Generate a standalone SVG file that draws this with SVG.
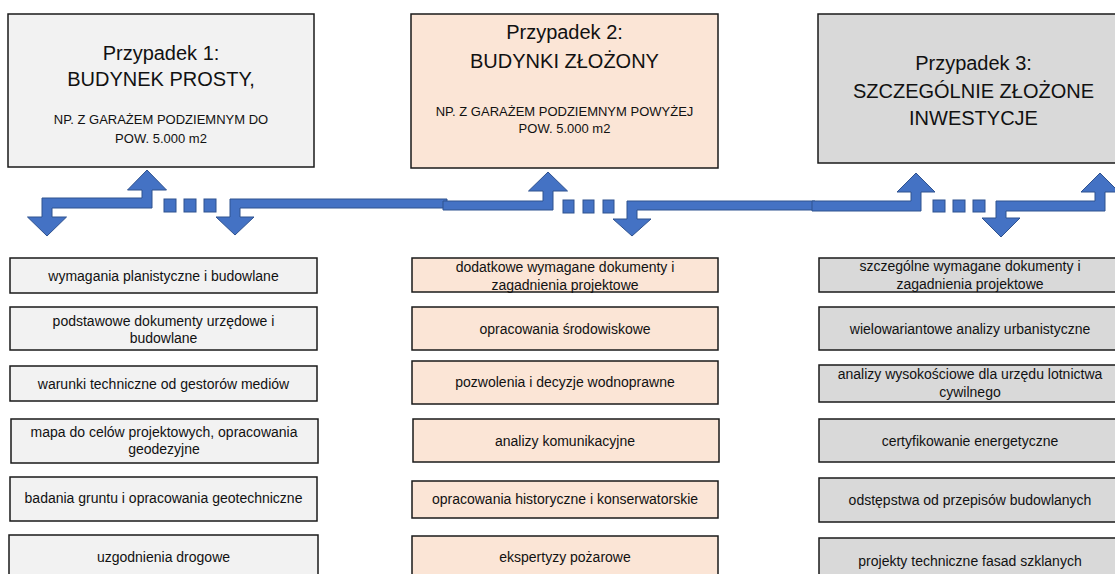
<svg xmlns="http://www.w3.org/2000/svg" width="1115" height="574" viewBox="0 0 1115 574">
  <style>
    .box { stroke: #1a1a1a; stroke-width: 1.5; }
    .c1 { fill: #F2F2F2; }
    .c2 { fill: #FBE5D6; }
    .c3 { fill: #D9D9D9; }
    text { font-family: "Liberation Sans", Arial, sans-serif; fill: #111; text-anchor: middle; }
    .head { font-size: 20px; }
    .sub { font-size: 13px; }
    .item { font-size: 14px; }
    .arrow { fill: #4472C4; stroke: #2F528F; stroke-width: 1; stroke-linejoin: miter; }
  </style>

  <!-- case headers -->
  <g id="case1">
    <rect class="box c1" x="8" y="14" width="306" height="153"/>
    <text class="head" x="161" y="60">Przypadek 1:</text>
    <text class="head" x="161" y="86">BUDYNEK PROSTY,</text>
    <text class="sub" x="161" y="123.5">NP. Z GARAŻEM PODZIEMNYM DO</text>
    <text class="sub" x="161" y="142.5">POW. 5.000 m2</text>
  </g>
  <g id="case2">
    <rect class="box c2" x="411" y="14" width="307" height="154"/>
    <text class="head" x="564.5" y="39">Przypadek 2:</text>
    <text class="head" x="564.5" y="68">BUDYNKI ZŁOŻONY</text>
    <text class="sub" x="564.5" y="115.5">NP. Z GARAŻEM PODZIEMNYM POWYŻEJ</text>
    <text class="sub" x="564.5" y="132.5">POW. 5.000 m2</text>
  </g>
  <g id="case3">
    <rect class="box c3" x="818" y="14" width="311" height="149"/>
    <text class="head" x="973.5" y="70">Przypadek 3:</text>
    <text class="head" x="973.5" y="98">SZCZEGÓLNIE ZŁOŻONE</text>
    <text class="head" x="973.5" y="125">INWESTYCJE</text>
  </g>

  <!-- connectors: bent block arrows with dotted continuation marks -->
  <g id="connectors">
    <polygon class="arrow" points="47,236 66.5,217 52,217 52,208 152,208 152,190 166.5,190 147,170 127.5,190 142,190 142,198 42,198 42,217 27.5,217"/>
    <polygon class="arrow" points="235,235 254,217 240,217 240,208 447,208 447,199 230,199 230,217 216,217"/>
    <polygon class="arrow" points="443,210 553,210 553,191 567.5,191 548,172 528.5,191 543,191 543,201 443,201"/>
    <polygon class="arrow" points="632,236 651,219 637,219 637,210 815,210 815,201 627,201 627,219 613,219"/>
    <polygon class="arrow" points="812,211 921,211 921,192 935,192 916,173 897,192 911,192 911,201 812,201"/>
    <polygon class="arrow" points="1001,237 1020,218 1006,218 1006,211 1105,211 1105,192 1119,192 1100,173 1081,192 1095,192 1095,201 996,201 996,218 982,218"/>
    <rect class="arrow" x="164" y="199" width="12" height="13"/>
    <rect class="arrow" x="184" y="199" width="12" height="13"/>
    <rect class="arrow" x="204" y="199" width="12" height="13"/>
    <rect class="arrow" x="563" y="200" width="11" height="13"/>
    <rect class="arrow" x="583" y="200" width="11" height="13"/>
    <rect class="arrow" x="603" y="200" width="11" height="13"/>
    <rect class="arrow" x="933" y="200" width="12" height="12"/>
    <rect class="arrow" x="953" y="200" width="12" height="12"/>
    <rect class="arrow" x="973" y="200" width="12" height="12"/>
  </g>

  <!-- column 1 items -->
  <g id="c1-item1"><rect class="box c1" x="10" y="258" width="307" height="35"/><text class="item" x="163.5" y="281">wymagania planistyczne i budowlane</text></g>
  <g id="c1-item2"><rect class="box c1" x="10" y="307" width="307" height="43"/><text class="item" x="163.5" y="326">podstawowe dokumenty urzędowe i</text><text class="item" x="163.5" y="343">budowlane</text></g>
  <g id="c1-item3"><rect class="box c1" x="10" y="366" width="307" height="35"/><text class="item" x="163.5" y="389">warunki techniczne od gestorów mediów</text></g>
  <g id="c1-item4"><rect class="box c1" x="11" y="419" width="307" height="44"/><text class="item" x="164" y="437">mapa do celów projektowych, opracowania</text><text class="item" x="164" y="454">geodezyjne</text></g>
  <g id="c1-item5"><rect class="box c1" x="10" y="477" width="307" height="44"/><text class="item" x="163.5" y="503">badania gruntu i opracowania geotechniczne</text></g>
  <g id="c1-item6"><rect class="box c1" x="9" y="535" width="309" height="50"/><text class="item" x="163.5" y="562">uzgodnienia drogowe</text></g>

  <!-- column 2 items -->
  <g id="c2-item1"><rect class="box c2" x="412" y="258" width="306" height="34"/><text class="item" x="565" y="272">dodatkowe wymagane dokumenty i</text><text class="item" x="565" y="290">zagadnienia projektowe</text></g>
  <g id="c2-item2"><rect class="box c2" x="412" y="307" width="306" height="43"/><text class="item" x="565" y="334">opracowania środowiskowe</text></g>
  <g id="c2-item3"><rect class="box c2" x="412" y="361" width="306" height="43"/><text class="item" x="565" y="387">pozwolenia i decyzje wodnoprawne</text></g>
  <g id="c2-item4"><rect class="box c2" x="413" y="419" width="306" height="43"/><text class="item" x="565" y="446">analizy komunikacyjne</text></g>
  <g id="c2-item5"><rect class="box c2" x="412" y="481" width="306" height="37"/><text class="item" x="565" y="504">opracowania historyczne i konserwatorskie</text></g>
  <g id="c2-item6"><rect class="box c2" x="412" y="536" width="306" height="50"/><text class="item" x="565" y="562">ekspertyzy pożarowe</text></g>

  <!-- column 3 items -->
  <g id="c3-item1"><rect class="box c3" x="819" y="258" width="306" height="34"/><text class="item" x="970" y="271">szczególne wymagane dokumenty i</text><text class="item" x="970" y="289">zagadnienia projektowe</text></g>
  <g id="c3-item2"><rect class="box c3" x="819" y="307" width="306" height="43"/><text class="item" x="970" y="334">wielowariantowe analizy urbanistyczne</text></g>
  <g id="c3-item3"><rect class="box c3" x="819" y="365" width="306" height="37"/><text class="item" x="970" y="379">analizy wysokościowe dla urzędu lotnictwa</text><text class="item" x="970" y="397">cywilnego</text></g>
  <g id="c3-item4"><rect class="box c3" x="819" y="419" width="306" height="43"/><text class="item" x="970" y="446">certyfikowanie energetyczne</text></g>
  <g id="c3-item5"><rect class="box c3" x="819" y="478" width="306" height="44"/><text class="item" x="970" y="505">odstępstwa od przepisów budowlanych</text></g>
  <g id="c3-item6"><rect class="box c3" x="819" y="538" width="306" height="50"/><text class="item" x="970" y="566">projekty techniczne fasad szklanych</text></g>
</svg>
